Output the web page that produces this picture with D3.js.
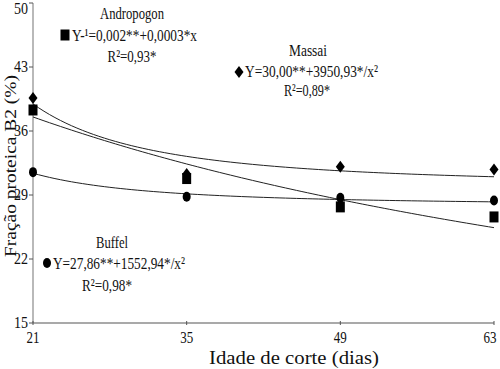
<!DOCTYPE html>
<html>
<head>
<meta charset="utf-8">
<script src="https://cdn.jsdelivr.net/npm/d3@7"></script>
<style>
  body { margin: 0; background: #fff; }
  svg text { font-family: "Times New Roman", Times, "Liberation Serif", "DejaVu Serif", serif; fill: #111; }
</style>
</head>
<body>
<div id="container"></div>
<script>
// Data
const days = [21, 35, 49, 63];
const massai = [39.6, 31.3, 32.1, 31.8];
const andropogon = [38.3, 30.8, 27.7, 26.6];
const buffel = [31.5, 28.8, 28.7, 28.4];

const xTicks = [21, 35, 49, 63];
const yTicks = [15, 22, 29, 36, 43, 50];

// regression coefficients (Y = a + b/x^2, Andropogon: 1/Y = a + b*x)
const massaiCoef = [30.00, 3950.93];
const buffelCoef = [27.86, 1552.94];
const andropogonCoef = [0.0203, 0.000302];

const width = 500;
const height = 369;

const svg = d3.create("svg")
    .attr("width", width)
    .attr("height", height);

const x = d3.scaleLinear().domain([21, 63]).range([33, 494]);
const y = d3.scaleLinear().domain([15, 50]).range([323, 3]);

// y axis
svg.append("line")
    .attr("x1", x(21)).attr("x2", x(21))
    .attr("y1", y(50)).attr("y2", y(15))
    .attr("stroke", "#a8a8a8").attr("stroke-width", 1.6);

svg.selectAll(".ytick")
    .data(yTicks)
    .enter()
    .append("line")
    .attr("x1", x(21) - 4).attr("x2", x(21))
    .attr("y1", d => y(d)).attr("y2", d => y(d))
    .attr("stroke", "#555");

svg.selectAll(".ylab")
    .data(yTicks)
    .enter()
    .append("text")
    .attr("x", x(21) - 5)
    .attr("y", d => Math.max(y(d) + 5, 14))
    .attr("text-anchor", "end")
    .attr("font-size", "16px")
    .attr("textLength", 14)
    .attr("lengthAdjust", "spacingAndGlyphs")
    .text(d => d);

// x axis
svg.append("line")
    .attr("x1", x(21)).attr("x2", x(63))
    .attr("y1", y(15)).attr("y2", y(15))
    .attr("stroke", "#555").attr("stroke-width", 1.2);

svg.selectAll(".xtick")
    .data(xTicks)
    .enter()
    .append("line")
    .attr("x1", d => x(d)).attr("x2", d => x(d))
    .attr("y1", y(15) - 2).attr("y2", y(15) + 2)
    .attr("stroke", "#555");

svg.selectAll(".xlab")
    .data(xTicks)
    .enter()
    .append("text")
    .attr("x", d => Math.min(x(d), 490))
    .attr("y", y(15) + 20)
    .attr("text-anchor", "middle")
    .attr("font-size", "17px")
    .attr("textLength", 13)
    .attr("lengthAdjust", "spacingAndGlyphs")
    .text(d => d);

svg.append("text")
    .attr("x", 294).attr("y", 364)
    .attr("text-anchor", "middle")
    .attr("font-size", "18px")
    .attr("textLength", 170)
    .attr("lengthAdjust", "spacingAndGlyphs")
    .text("Idade de corte (dias)");

svg.append("text")
    .attr("transform", "translate(16,166) rotate(-90)")
    .attr("text-anchor", "middle")
    .attr("font-size", "17px")
    .attr("textLength", 182)
    .attr("lengthAdjust", "spacingAndGlyphs")
    .text("Fração proteica B2 (%)");

// fitted curves
const xs = d3.range(21, 63.01, 0.5);
const line = d3.line().x(d => x(d[0])).y(d => y(d[1]));

const curves = [
    xs.map(v => [v, massaiCoef[0] + massaiCoef[1] / (v * v)]),
    xs.map(v => [v, buffelCoef[0] + buffelCoef[1] / (v * v)]),
    xs.map(v => [v, 1 / (andropogonCoef[0] + andropogonCoef[1] * v)])
];

svg.selectAll(".curve")
    .data(curves)
    .enter()
    .append("path")
    .attr("d", line)
    .attr("fill", "none")
    .attr("stroke", "#222")
    .attr("stroke-width", 1);

// marker shapes
const diamond = "M0,-6L4.5,0L0,6L-4.5,0Z";
const square = "M-4.5,-5.5H4.5V5.5H-4.5Z";

svg.selectAll(".andro")
    .data(andropogon)
    .enter()
    .append("path")
    .attr("d", square)
    .attr("transform", (d, i) => `translate(${x(days[i])},${y(d)})`)
    .attr("fill", "#000");

svg.selectAll(".massai")
    .data(massai)
    .enter()
    .append("path")
    .attr("d", diamond)
    .attr("transform", (d, i) => `translate(${x(days[i])},${y(d)})`)
    .attr("fill", "#000");

svg.selectAll(".buffel")
    .data(buffel)
    .enter()
    .append("ellipse")
    .attr("cx", (d, i) => x(days[i]))
    .attr("cy", d => y(d))
    .attr("rx", 4).attr("ry", 5)
    .attr("fill", "#000");

// annotations
function label(tx, ty, str, anchor, len) {
    svg.append("text")
        .attr("x", tx).attr("y", ty)
        .attr("text-anchor", anchor || "middle")
        .attr("font-size", "17px")
        .attr("textLength", len)
        .attr("lengthAdjust", "spacingAndGlyphs")
        .text(str);
}

label(132, 19, "Andropogon", "middle", 64);
svg.append("path").attr("d", square).attr("transform", "translate(65,35)").attr("fill", "#000");
label(72, 41, "Y-¹=0,002**+0,0003*x", "start", 125);
label(132, 62, "R²=0,93*", "middle", 49);

label(308, 56, "Massai", "middle", 38);
svg.append("path").attr("d", diamond).attr("transform", "translate(239,72)").attr("fill", "#000");
label(245, 77, "Y=30,00**+3950,93*/x²", "start", 133);
label(307, 96, "R²=0,89*", "middle", 46);

label(112, 248, "Buffel", "middle", 32);
svg.append("ellipse").attr("cx", 47).attr("cy", 263).attr("rx", 4).attr("ry", 5).attr("fill", "#000");
label(53, 269, "Y=27,86**+1552,94*/x²", "start", 132);
label(107, 291, "R²=0,98*", "middle", 50);

d3.select("#container").append(() => svg.node());
</script>
</body>
</html>
